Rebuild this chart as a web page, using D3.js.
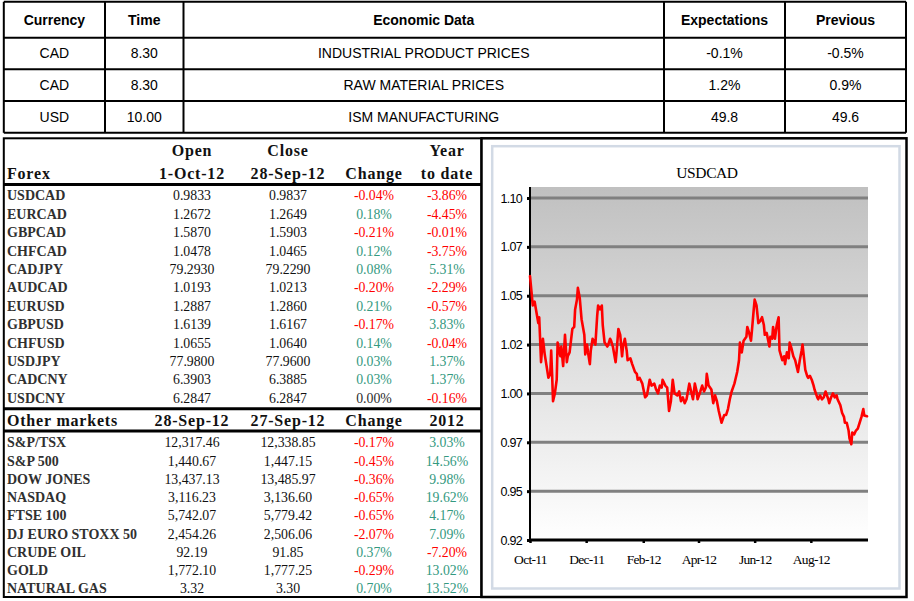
<!DOCTYPE html>
<html><head><meta charset="utf-8">
<script src="https://cdn.jsdelivr.net/npm/d3@7"></script>
<style>body{margin:0;background:#fff}svg{display:block}</style>
</head><body>
<svg id="c" width="914" height="601"></svg>
<script>
// ---------- data ----------
const calHeaders = ["Currency","Time","Economic Data","Expectations","Previous"];
const calCurrency = ["CAD","CAD","USD"];
const calTime = ["8.30","8.30","10.00"];
const calEvent = ["INDUSTRIAL PRODUCT PRICES","RAW MATERIAL PRICES","ISM MANUFACTURING"];
const calExpect = ["-0.1%","1.2%","49.8"];
const calPrev = ["-0.5%","0.9%","49.6"];

const fxHeaderTop = ["","Open","Close","","Year"];
const fxHeaderBottom = ["Forex","1-Oct-12","28-Sep-12","Change","to date"];
const fxPairs = ["USDCAD","EURCAD","GBPCAD","CHFCAD","CADJPY","AUDCAD","EURUSD","GBPUSD","CHFUSD","USDJPY","CADCNY","USDCNY"];
const fxOpen = [0.9833,1.2672,1.5870,1.0478,79.2930,1.0193,1.2887,1.6139,1.0655,77.9800,6.3903,6.2847];
const fxClose = [0.9837,1.2649,1.5903,1.0465,79.2290,1.0213,1.2860,1.6167,1.0640,77.9600,6.3885,6.2847];
const fxChange = [-0.04,0.18,-0.21,0.12,0.08,-0.20,0.21,-0.17,0.14,0.03,0.03,0.00];
const fxYtd = [-3.86,-4.45,-0.01,-3.75,5.31,-2.29,-0.57,3.83,-0.04,1.37,1.37,-0.16];

const mktHeader = ["Other markets","28-Sep-12","27-Sep-12","Change","2012"];
const mktNames = ["S&P/TSX","S&P 500","DOW JONES","NASDAQ","FTSE 100","DJ EURO STOXX 50","CRUDE OIL","GOLD","NATURAL GAS"];
const mktLast = [12317.46,1440.67,13437.13,3116.23,5742.07,2454.26,92.19,1772.10,3.32];
const mktPrev = [12338.85,1447.15,13485.97,3136.60,5779.42,2506.06,91.85,1777.25,3.30];
const mktChange = [-0.17,-0.45,-0.36,-0.65,-0.65,-2.07,0.37,-0.29,0.70];
const mktYtd = [3.03,14.56,9.98,19.62,4.17,7.09,-7.20,13.02,13.52];

const chartTitle = "USDCAD";
const chartStart = "2011-10-01";
const chartEnd = "2012-10-01";
const yTickValues = [0.92,0.945,0.97,0.995,1.02,1.045,1.07,1.095];
const yTickLabels = ["0.92","0.95","0.97","1.00","1.02","1.05","1.07","1.10"];
const xTickLabels = ["Oct-11","Dec-11","Feb-12","Apr-12","Jun-12","Aug-12"];
// [days since 1-Oct-11, USDCAD]
const usdcadDaily = [[0,1.055],[1,1.050],[3,1.040],[5,1.042],[9,1.031],[10,1.034],[12,1.011],[14,1.023],[16,1.015],[18,1.009],[20,1.003],[22,1.005],[23,1.017],[24,1.005],[25,0.991],[27,0.995],[29,1.002],[30,1.021],[33,1.014],[34,1.019],[36,1.009],[38,1.025],[40,1.011],[41,1.014],[43,1.016],[46,1.028],[48,1.029],[49,1.038],[51,1.043],[52,1.049],[54,1.044],[56,1.033],[59,1.025],[60,1.015],[61,1.018],[62,1.020],[63,1.016],[65,1.010],[66,1.017],[68,1.023],[71,1.020],[73,1.035],[74,1.040],[76,1.038],[78,1.040],[79,1.030],[81,1.021],[84,1.019],[85,1.020],[87,1.023],[88,1.022],[90,1.019],[93,1.011],[94,1.016],[96,1.028],[98,1.025],[100,1.014],[101,1.019],[103,1.023],[105,1.017],[106,1.012],[109,1.013],[111,1.010],[114,1.006],[116,1.005],[117,1.002],[119,1.003],[122,1.000],[125,0.993],[127,0.994],[130,1.002],[132,0.999],[135,1.000],[137,0.997],[139,0.995],[141,0.999],[143,0.998],[144,1.002],[147,0.999],[149,0.998],[151,0.986],[153,0.991],[155,1.002],[157,0.995],[160,0.994],[162,0.996],[164,0.991],[166,0.993],[168,0.990],[170,0.992],[173,1.000],[175,0.996],[177,0.992],[179,1.000],[181,0.996],[182,0.992],[185,0.996],[187,0.999],[189,0.996],[191,0.998],[192,1.005],[194,0.999],[197,0.997],[199,0.990],[201,0.994],[203,0.991],[205,0.986],[208,0.980],[211,0.984],[213,0.984],[215,0.987],[217,0.992],[219,0.996],[222,1.000],[223,1.002],[225,1.006],[227,1.012],[228,1.021],[230,1.016],[232,1.022],[235,1.024],[236,1.029],[238,1.026],[240,1.022],[241,1.027],[243,1.038],[244,1.043],[246,1.040],[248,1.031],[250,1.032],[252,1.034],[254,1.030],[255,1.025],[257,1.026],[260,1.019],[261,1.024],[263,1.023],[264,1.029],[266,1.023],[268,1.030],[270,1.034],[271,1.017],[274,1.012],[276,1.014],[277,1.010],[279,1.016],[281,1.013],[282,1.021],[284,1.018],[286,1.014],[288,1.012],[290,1.008],[291,1.006],[293,1.012],[295,1.017],[296,1.020],[299,1.007],[301,1.004],[302,1.003],[304,1.004],[306,1.002],[308,0.999],[309,0.997],[312,0.993],[313,0.992],[315,0.994],[317,0.992],[319,0.993],[321,0.996],[324,0.992],[325,0.990],[327,0.993],[329,0.995],[331,0.993],[333,0.994],[334,0.992],[337,0.989],[339,0.985],[341,0.983],[342,0.980],[344,0.980],[346,0.976],[347,0.972],[349,0.969],[350,0.975],[352,0.974],[354,0.976],[356,0.977],[358,0.980],[360,0.983],[362,0.987],[363,0.9837],[366,0.9833]];

// ---------- drawing ----------
const svg = d3.select("#c");
const SANS = "'Liberation Sans', Arial, sans-serif";
const SERIF = "'Liberation Serif', 'Times New Roman', serif";
const RED = "#ff0000", GREEN = "#339980", DARK = "#2b2b2b";
const pctColor = v => v > 0 ? GREEN : (v < 0 ? RED : DARK);
const pct = v => v.toFixed(2) + "%";

// ---- top calendar table ----
const tCols = [3.8,105,183.5,664,785,906];
const tRows = [1.8,37.7,69.2,101,132.8];
const tg = svg.append("g");
tg.selectAll("line.v").data(tCols).join("line")
  .attr("x1",d=>d).attr("x2",d=>d).attr("y1",tRows[0]).attr("y2",tRows[4])
  .attr("stroke","#000").attr("stroke-width",2);
tg.selectAll("line.h").data(tRows).join("line")
  .attr("x1",tCols[0]).attr("x2",tCols[5]).attr("y1",d=>d).attr("y2",d=>d)
  .attr("stroke","#000").attr("stroke-width",2);
const colMid = i => (tCols[i]+tCols[i+1])/2;
tg.selectAll("text.h").data(calHeaders).join("text")
  .attr("x",(d,i)=>colMid(i)).attr("y",(tRows[0]+tRows[1])/2+5)
  .attr("text-anchor","middle").attr("font-family",SANS).attr("font-weight","bold")
  .attr("font-size",14).text(d=>d);
const calRows = calCurrency.map((c,i)=>[c,calTime[i],calEvent[i],calExpect[i],calPrev[i]]);
calRows.forEach((r,ri)=>{
  tg.selectAll("text.r"+ri).data(r).join("text")
    .attr("x",(d,i)=>colMid(i)).attr("y",(tRows[ri+1]+tRows[ri+2])/2+5)
    .attr("text-anchor","middle").attr("font-family",SANS)
    .attr("font-size",14).text(d=>d);
});

// ---- left market panel ----
const lg = svg.append("g");
const L = {x0:3.8, x1:481.5, y0:138.3, y1:597};
lg.append("rect").attr("x",L.x0).attr("y",L.y0).attr("width",L.x1-L.x0).attr("height",L.y1-L.y0)
  .attr("fill","none").attr("stroke","#000").attr("stroke-width",2);
const colX = [7,192,288,374,447];
[184.6,408.8,431].forEach(yy=>{
  lg.append("line").attr("x1",L.x0).attr("x2",L.x1).attr("y1",yy).attr("y2",yy)
    .attr("stroke","#000").attr("stroke-width",3);
});
function headerRow(arr, yy){
  lg.append("g").selectAll("text").data(arr).join("text")
    .attr("x",(d,i)=>colX[i]).attr("y",yy)
    .attr("text-anchor",(d,i)=>i===0?"start":"middle")
    .attr("font-family",SERIF).attr("font-weight","bold").attr("font-size",16)
    .attr("letter-spacing",0.8).attr("fill","#111").text(d=>d);
}
headerRow(fxHeaderTop,155.7);
headerRow(fxHeaderBottom,179);
headerRow(mktHeader,425.7);

function bodyRows(names, c1, c2, ch, ytd, y0, step, fmt){
  const rows = names.map((n,i)=>({n, a:c1[i], b:c2[i], c:ch[i], y:ytd[i], yy:y0+i*step}));
  const g = lg.append("g");
  const rg = g.selectAll("g").data(rows).join("g");
  rg.append("text").attr("x",colX[0]).attr("y",d=>d.yy)
    .attr("font-family",SERIF).attr("font-weight","bold").attr("font-size",14)
    .attr("fill","#303030").text(d=>d.n);
  rg.append("text").attr("x",colX[1]).attr("y",d=>d.yy).attr("text-anchor","middle")
    .attr("font-family",SERIF).attr("font-size",13.8).attr("fill","#111").text(d=>fmt(d.a));
  rg.append("text").attr("x",colX[2]).attr("y",d=>d.yy).attr("text-anchor","middle")
    .attr("font-family",SERIF).attr("font-size",13.8).attr("fill","#111").text(d=>fmt(d.b));
  rg.append("text").attr("x",colX[3]).attr("y",d=>d.yy).attr("text-anchor","middle")
    .attr("font-family",SERIF).attr("font-size",13.8).attr("fill",d=>pctColor(d.c)).text(d=>pct(d.c));
  rg.append("text").attr("x",colX[4]).attr("y",d=>d.yy).attr("text-anchor","middle")
    .attr("font-family",SERIF).attr("font-size",13.8).attr("fill",d=>pctColor(d.y)).text(d=>pct(d.y));
}
bodyRows(fxPairs, fxOpen, fxClose, fxChange, fxYtd, 200.3, 18.4, d3.format(".4f"));
bodyRows(mktNames, mktLast, mktPrev, mktChange, mktYtd, 447.3, 18.25, d3.format(",.2f"));

// ---- right chart panel ----
const cg = svg.append("g");
cg.append("rect").attr("x",481.5).attr("y",138.3).attr("width",906.5-481.5).attr("height",597-138.3)
  .attr("fill","#fff").attr("stroke","#000").attr("stroke-width",2.5);
cg.append("rect").attr("x",492.2).attr("y",146.2).attr("width",899.5-492.2).attr("height",588.5-146.2)
  .attr("fill","#fff").attr("stroke","#d2dae5").attr("stroke-width",2.5);

const x = d3.scaleTime().domain([new Date(chartStart+"T00:00"), new Date(chartEnd+"T00:00")]).range([530,867]);
const y = d3.scaleLinear().domain([0.92,1.095]).range([540,198]);
const plotTop = 187, plotRight = 868;

const defs = svg.append("defs");
const grad = defs.append("linearGradient").attr("id","bg").attr("x1",0).attr("x2",0).attr("y1",0).attr("y2",1);
grad.append("stop").attr("offset","0%").attr("stop-color","#c0c0c0");
grad.append("stop").attr("offset","100%").attr("stop-color","#ffffff");
cg.append("rect").attr("x",530).attr("y",plotTop).attr("width",plotRight-530).attr("height",540-plotTop)
  .attr("fill","url(#bg)");

cg.append("text").attr("x",707).attr("y",177.5).attr("text-anchor","middle")
  .attr("font-family",SERIF).attr("font-size",15.5).attr("letter-spacing",-0.4).attr("fill","#000").text(chartTitle);

cg.append("g").selectAll("line").data(yTickValues.slice(1)).join("line")
  .attr("x1",530).attr("x2",plotRight).attr("y1",d=>y(d)).attr("y2",d=>y(d))
  .attr("stroke","#808080").attr("stroke-width",3);

const yAxis = cg.append("g").attr("transform","translate(530,0)")
  .call(d3.axisLeft(y).tickValues(yTickValues).tickFormat((d,i)=>yTickLabels[i]).tickSize(3).tickPadding(5));
yAxis.select(".domain").remove();
yAxis.append("line").attr("x1",0).attr("x2",0).attr("y1",plotTop).attr("y2",540).attr("stroke","#000").attr("stroke-width",2);
yAxis.selectAll(".tick line").attr("stroke","#000").attr("stroke-width",3);
yAxis.selectAll(".tick text").attr("font-family",SANS).attr("font-size",12.5).attr("letter-spacing",-0.7).attr("fill","#000");

const parseM = d3.timeParse("%b-%y");
const xAxis = cg.append("g").attr("transform","translate(0,540)")
  .call(d3.axisBottom(x).tickValues(xTickLabels.map(parseM)).tickFormat((d,i)=>xTickLabels[i]).tickSize(3).tickPadding(11));
xAxis.select(".domain").remove();
xAxis.append("line").attr("x1",530).attr("x2",plotRight).attr("y1",0).attr("y2",0).attr("stroke","#000").attr("stroke-width",3);
xAxis.selectAll(".tick line").attr("stroke","#000").attr("stroke-width",2.5);
xAxis.selectAll(".tick text").attr("font-family",SERIF).attr("font-size",13.5).attr("letter-spacing",-0.7).attr("fill","#000");

const t0 = new Date(chartStart+"T00:00");
const series = usdcadDaily.map(([d,v])=>({date:d3.timeDay.offset(t0,d), v}));
cg.append("path").datum(series)
  .attr("d",d3.line().x(d=>x(d.date)).y(d=>y(d.v)))
  .attr("fill","none").attr("stroke","#ff0000").attr("stroke-width",2.6)
  .attr("stroke-linejoin","round").attr("stroke-linecap","round");
</script>
</body></html>
